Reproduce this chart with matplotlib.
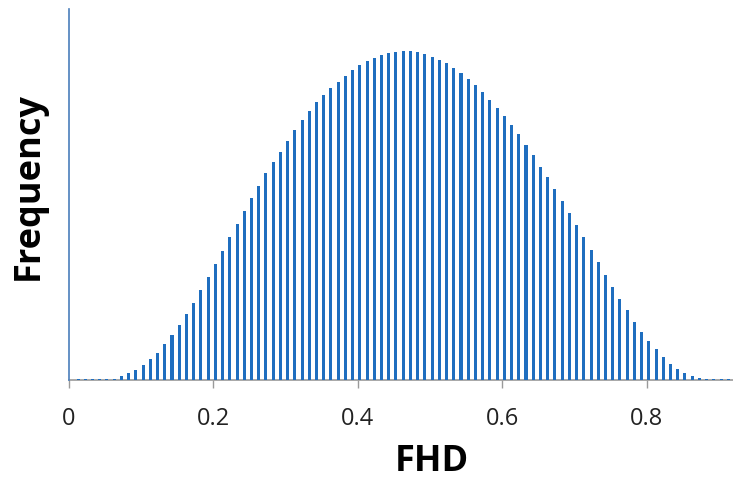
import numpy as np
import matplotlib.pyplot as plt

# FHD histogram, bar heights (arbitrary units)
bin_start = 0.013
bin_step = 0.01
freq = [1, 1, 1, 1, 1, 1.3, 4, 6.7, 10.3, 15,
        21, 27.3, 36, 44.7, 55, 66, 77.3, 89.7, 103.3, 115.7,
        129, 142.7, 155.7, 169, 181.7, 194, 206.7, 218, 228.3, 239,
        249.8, 260, 269, 277.7, 285, 291.7, 298.3, 304, 310, 314.7,
        318.7, 322.3, 325.3, 327, 327.7, 329, 329, 328, 326, 323.3,
        320.3, 316.7, 312, 307.3, 301.3, 294.7, 288, 280, 272.3, 264,
        254.7, 246, 234.8, 225, 213, 202.7, 191, 179, 167.3, 154.7,
        142.7, 130, 117.7, 105, 92.7, 81, 70, 58, 47.7, 39,
        30.7, 23, 16.3, 11, 7.3, 3.7, 1.7, 1, 1, 1, 1]
xticks = [0, 0.2, 0.4, 0.6, 0.8]
xtick_labels = ['0', '0.2', '0.4', '0.6', '0.8']

x = bin_start + bin_step * np.arange(len(freq))

fig = plt.figure(figsize=(7.33, 4.81), dpi=100)
ax = fig.add_axes([0.0937, 0.2079, 0.9068, 0.7713])

ax.bar(x, freq, width=0.0042, color='#1f6ebf', linewidth=0, zorder=3)

ax.set_xlim(0, 0.92)
ax.set_ylim(0, 371)

for s in ['top', 'right']:
    ax.spines[s].set_visible(False)
ax.spines['left'].set_color('#4a7ebb')
ax.spines['left'].set_linewidth(1.2)
ax.spines['bottom'].set_color('#9a9a9a')
ax.spines['bottom'].set_linewidth(1.2)
ax.spines['bottom'].set_zorder(1)

ax.set_yticks([])
ax.set_xticks(xticks)
ax.set_xticklabels(xtick_labels, fontsize=17, family='Open Sans', color='#222222')
ax.tick_params(axis='x', length=6, width=1, color='#9a9a9a', pad=13)

# axis titles placed like the original (FHD sits right of the axes centre)
fig.text(432 / 733, 0.002, 'FHD', fontsize=26, fontweight='bold',
         family='Open Sans', ha='center', va='bottom')
fig.text(29 / 733, 1 - 186 / 481, 'Frequency', fontsize=26, fontweight='bold',
         family='Open Sans', ha='center', va='center', rotation=90)

fig.savefig('out.png', dpi=100)
